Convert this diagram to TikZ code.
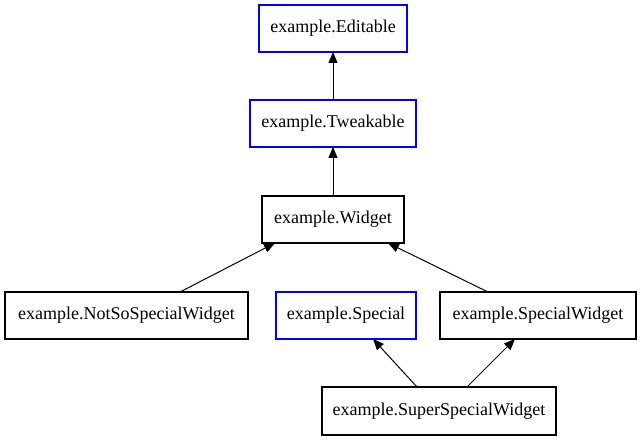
\documentclass[tikz,border=0pt]{standalone}
\usepackage{fontspec}
\setmainfont{Liberation Serif}
\usetikzlibrary{arrows.meta}
\definecolor{gvblue}{RGB}{0,0,255}
\tikzset{
  cls/.style={draw=black, line width=2.2pt, inner sep=0pt, outer sep=0pt, font=\fontsize{18}{20}\selectfont, fill=white},
  iface/.style={cls, draw=gvblue},
  inh/.style={line width=1pt, -{Triangle[length=11pt,width=9pt]}}
}
\begin{document}
\begin{tikzpicture}[x=1pt,y=-1pt]
\useasboundingbox (0,0) rectangle (643,443);
\node[iface, minimum width=148pt, minimum height=47pt] (ed) at (333,28.5) {example.Editable};
\node[iface, minimum width=166pt, minimum height=47pt] (tw) at (333,123.5) {example.Tweakable};
\node[cls, minimum width=142pt, minimum height=47pt] (wi) at (333,219.5) {example.Widget};
\node[cls, minimum width=243pt, minimum height=47pt] (ns) at (126.5,315.5) {example.NotSoSpecialWidget};
\node[iface, minimum width=140pt, minimum height=47pt] (sp) at (346,315.5) {example.Special};
\node[cls, minimum width=196pt, minimum height=47pt] (sw) at (538,315.5) {example.SpecialWidget};
\node[cls, minimum width=234pt, minimum height=48pt] (ss) at (439,411) {example.SuperSpecialWidget};
\draw[inh] (tw.north) -- (ed.south);
\draw[inh] (wi.north) -- (tw.south);
\draw[inh] ([xshift=53.5pt]ns.north) -- ([xshift=-58pt]wi.south);
\draw[inh] ([xshift=-50pt]sw.north) -- ([xshift=55pt]wi.south);
\draw[inh] ([xshift=-22pt]ss.north) -- ([xshift=27pt]sp.south);
\draw[inh] ([xshift=28pt]ss.north) -- ([xshift=-23pt]sw.south);
\end{tikzpicture}
\end{document}
